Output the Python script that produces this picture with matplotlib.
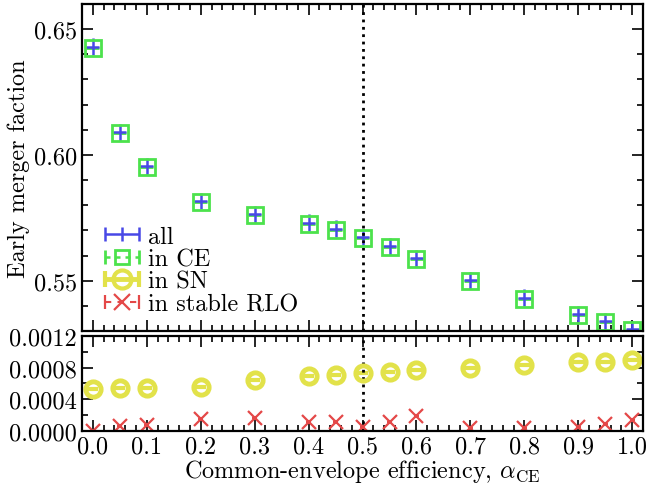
import numpy as np
import matplotlib
matplotlib.use("Agg")
import matplotlib.pyplot as plt
from matplotlib.ticker import MultipleLocator, FormatStrFormatter
from matplotlib.legend_handler import HandlerErrorbar

plt.rcParams['font.family'] = 'serif'
plt.rcParams['font.serif'] = ['cmr10', 'DejaVu Serif']
plt.rcParams['mathtext.fontset'] = 'cm'
plt.rcParams['axes.unicode_minus'] = False
plt.rcParams['axes.formatter.use_mathtext'] = True

# alpha_CE values
alpha = [0.0, 0.05, 0.1, 0.2, 0.3, 0.4, 0.45, 0.5, 0.55, 0.6, 0.7, 0.8, 0.9, 0.95, 1.0]

# early merger fraction, all channels and CE channel
frac_all = [0.6431, 0.6090, 0.5955, 0.5816, 0.5764, 0.5731, 0.5707, 0.5672,
            0.5636, 0.5589, 0.5501, 0.5433, 0.5367, 0.5338, 0.5306]
frac_ce = [0.6427, 0.6086, 0.5951, 0.5812, 0.5760, 0.5727, 0.5703, 0.5668,
           0.5632, 0.5585, 0.5497, 0.5429, 0.5363, 0.5334, 0.5302]
err_all = [0.0035, 0.0034, 0.0034, 0.0033, 0.0033, 0.0033, 0.0033, 0.0033,
           0.0033, 0.0033, 0.0033, 0.0033, 0.0033, 0.0033, 0.0033]

# small channels
frac_sn = [0.000531, 0.000539, 0.000539, 0.000560, 0.000648, 0.000699, 0.000711,
           0.000733, 0.000749, 0.000767, 0.000800, 0.000838, 0.000868, 0.000876, 0.000893]
frac_rlo = [0.000003, 0.000060, 0.000080, 0.000152, 0.000160, 0.000118, 0.000110,
            0.000050, 0.000110, 0.000186, 0.000040, 0.000040, 0.000055, 0.000090, 0.000140]

c_all = '#4848e6'
c_ce = '#4ce24c'
c_sn = '#e2e24a'
c_rlo = '#e44848'

fs = 17.5

fig = plt.figure(figsize=(6.46, 4.85), dpi=100)
ax1 = fig.add_axes([0.127, 0.3155, 0.8684, 0.6742])
ax2 = fig.add_axes([0.127, 0.1093, 0.8684, 0.1959])

xe = 0.012

# top panel
ax1.errorbar(alpha, frac_ce, xerr=xe, fmt='s', ms=11.5, mfc='none', mec=c_ce,
             mew=2, ecolor=c_ce, elinewidth=2, capsize=0)
ax1.errorbar(alpha, frac_all, xerr=xe, yerr=err_all, fmt='none', ecolor=c_all,
             elinewidth=1.8, capsize=0)

# bottom panel
ax2.errorbar(alpha, frac_sn, xerr=0.01, fmt='o', ms=11, mfc='none', mec=c_sn,
             mew=3.5, ecolor=c_sn, elinewidth=3, capsize=0)
ax2.errorbar(alpha, frac_rlo, xerr=0.005, fmt='x', ms=10, mec=c_rlo,
             mew=1.6, ecolor=c_rlo, elinewidth=1.5, capsize=0)

# legend proxies (horizontal bar with end caps)
nan = [np.nan]
h1 = ax1.errorbar(nan, nan, xerr=1, fmt='|', ms=10, mec=c_all, mew=1.8,
                  ecolor=c_all, elinewidth=1.8, capsize=5, capthick=1.8,
                  label='all')
h2 = ax1.errorbar(nan, nan, xerr=1, fmt='s', ms=9.5, mfc='none', mec=c_ce,
                  mew=2, ecolor=c_ce, elinewidth=1.8, capsize=5, capthick=1.8,
                  label='in CE')
h3 = ax1.errorbar(nan, nan, xerr=1, fmt='o', ms=13, mfc='none', mec=c_sn,
                  mew=3, ecolor=c_sn, elinewidth=3.5, capsize=5.5, capthick=3.5,
                  label='in SN')
h4 = ax1.errorbar(nan, nan, xerr=1, fmt='x', ms=12, mec=c_rlo,
                  mew=1.6, ecolor=c_rlo, elinewidth=1.5, capsize=5, capthick=1.5,
                  label='in stable RLO')
h4[2][0].set_linestyle((0, (3, 3)))
h2[2][0].set_linestyle((0, (2, 2)))

hm = {h: HandlerErrorbar(xerr_size=0.7) for h in (h1, h2, h3, h4)}
ax1.legend(handles=[h1, h2, h3, h4], loc='lower left', frameon=False, fontsize=fs,
           handlelength=1.4, handletextpad=0.4, labelspacing=0.02,
           borderaxespad=0.3, bbox_to_anchor=(0.01, -0.005), handler_map=hm)

for ax in (ax1, ax2):
    ax.axvline(0.5, color='k', ls=':', lw=2)
    ax.set_xlim(-0.02, 1.02)
    ax.xaxis.set_major_locator(MultipleLocator(0.1))
    ax.xaxis.set_minor_locator(MultipleLocator(0.02))
    ax.tick_params(which='both', direction='in', top=True, right=True, width=1.2)
    ax.tick_params(which='major', length=8, labelsize=fs)
    ax.tick_params(which='minor', length=4)
    for s in ax.spines.values():
        s.set_linewidth(1.6)

ax1.set_ylim(0.53, 0.66)
ax1.yaxis.set_major_locator(MultipleLocator(0.05))
ax1.yaxis.set_minor_locator(MultipleLocator(0.01))
ax1.yaxis.set_major_formatter(FormatStrFormatter('%.2f'))
ax1.tick_params(labelbottom=False)
ax1.set_ylabel('Early merger faction', fontsize=fs)
ax1.yaxis.set_label_coords(-0.093, 0.5)

ax2.set_ylim(0.0, 0.0012)
ax2.yaxis.set_major_locator(MultipleLocator(0.0004))
ax2.yaxis.set_minor_locator(MultipleLocator(0.0002))
ax2.yaxis.set_major_formatter(FormatStrFormatter('%.4f'))
ax2.xaxis.set_major_formatter(FormatStrFormatter('%.1f'))
ax2.set_xlabel(r'Common-envelope efficiency, $\alpha_{\rm CE}$', fontsize=fs)
ax2.xaxis.set_label_coords(0.5, -0.275)

fig.savefig('out.png', dpi=100)
